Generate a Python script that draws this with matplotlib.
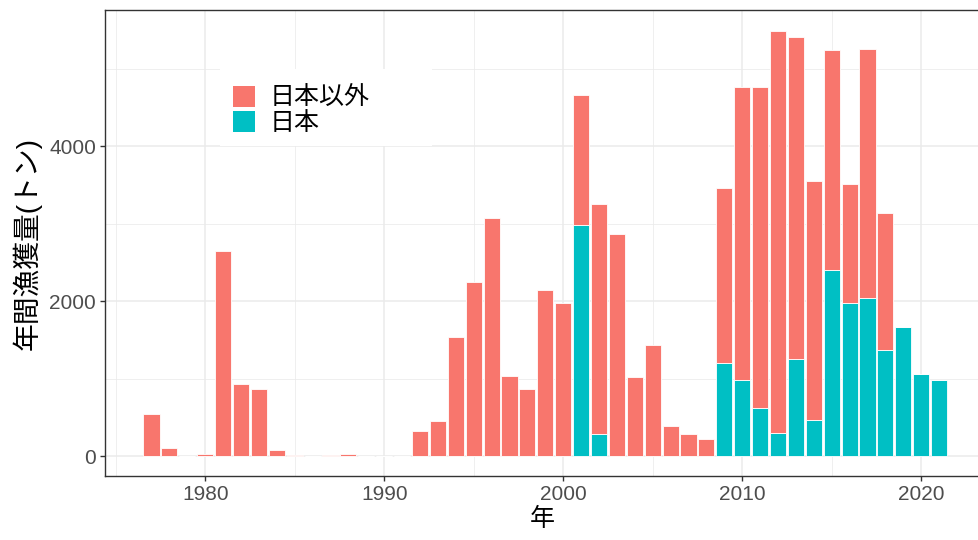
import matplotlib.pyplot as plt
from matplotlib.patches import Patch, Rectangle

years = list(range(1977, 2022))

# 日本以外 (other than Japan), tonnes
other = [545, 106, 0, 32, 2645, 935, 867, 84, 15, 0,
         15, 32, 0, 0, 0, 320, 461, 1545, 2245, 3076,
         1037, 865, 2147, 1979, 1668, 2964, 2873, 1024, 1441, 392,
         293, 224, 2258, 3789, 4151, 5180, 4152, 3084, 2843, 1545,
         3208, 1768, 0, 0, 0]

# 日本 (Japan), tonnes
japan = [0, 0, 0, 0, 0, 0, 0, 0, 0, 0,
         0, 0, 0, 0, 0, 0, 0, 0, 0, 0,
         0, 0, 0, 0, 2990, 293, 0, 0, 0, 0,
         0, 0, 1207, 981, 619, 306, 1261, 465, 2400, 1974,
         2048, 1373, 1670, 1063, 981]

series_labels = ["日本以外", "日本"]
x_ticks = [1980, 1990, 2000, 2010, 2020]
y_ticks = [0, 2000, 4000]

RED = "#F8766D"
TEAL = "#00BFC4"


def main():
    plt.rcParams['font.family'] = ['Liberation Sans', 'Noto Sans CJK JP']

    fig = plt.figure(figsize=(9.79, 5.4), dpi=100)
    ax = fig.add_axes([105 / 979, 64 / 540, 874 / 979, 466 / 540])

    ax.bar(years, japan, width=0.9, color=TEAL,
           edgecolor="white", linewidth=0.6, zorder=2)
    ax.bar(years, other, width=0.9, bottom=japan, color=RED,
           edgecolor="white", linewidth=0.6, zorder=2)

    ax.set_xticks(x_ticks)
    ax.set_yticks(y_ticks)
    ax.set_xticks(range(1975, 2026, 10), minor=True)
    ax.set_yticks([1000, 3000, 5000], minor=True)
    # limits after ticks (set_xticks widens the view); panel runs off the right edge
    ax.set_xlim(1974.4, 2023.23)
    ax.set_ylim(-255, 5760)

    ax.set_axisbelow(True)
    ax.grid(which="major", color="#EBEBEB", linewidth=1.1)
    ax.grid(which="minor", color="#EBEBEB", linewidth=0.55)

    for side in ["left", "top", "bottom"]:
        ax.spines[side].set_color("#333333")
        ax.spines[side].set_linewidth(1.0)
    ax.spines["right"].set_visible(False)

    ax.tick_params(which="major", length=3.5, width=1.0, color="#333333",
                   labelcolor="#4D4D4D", labelsize=15, pad=3)
    ax.tick_params(which="minor", length=0)

    ax.set_xlabel("年", fontsize=18, labelpad=2)
    ax.set_ylabel("年間漁獲量(トン)", fontsize=20, labelpad=5)

    # white legend background box
    ax.add_patch(Rectangle((220 / 979, 1 - 146 / 540), 212 / 979, 77 / 540,
                           transform=fig.transFigure, facecolor="white",
                           edgecolor="none", zorder=3, clip_on=False))
    handles = [Patch(facecolor=RED, edgecolor="none"),
               Patch(facecolor=TEAL, edgecolor="none")]
    leg = ax.legend(handles, series_labels, loc="upper left",
                    bbox_to_anchor=(228 / 979, 1 - 81 / 540),
                    bbox_transform=fig.transFigure, frameon=False,
                    fontsize=18, handlelength=0.9, handleheight=0.9,
                    handletextpad=0.55, labelspacing=0.05,
                    borderpad=0.2, borderaxespad=0)
    leg.set_zorder(4)

    fig.savefig("out.png", dpi=100)


if __name__ == "__main__":
    main()
